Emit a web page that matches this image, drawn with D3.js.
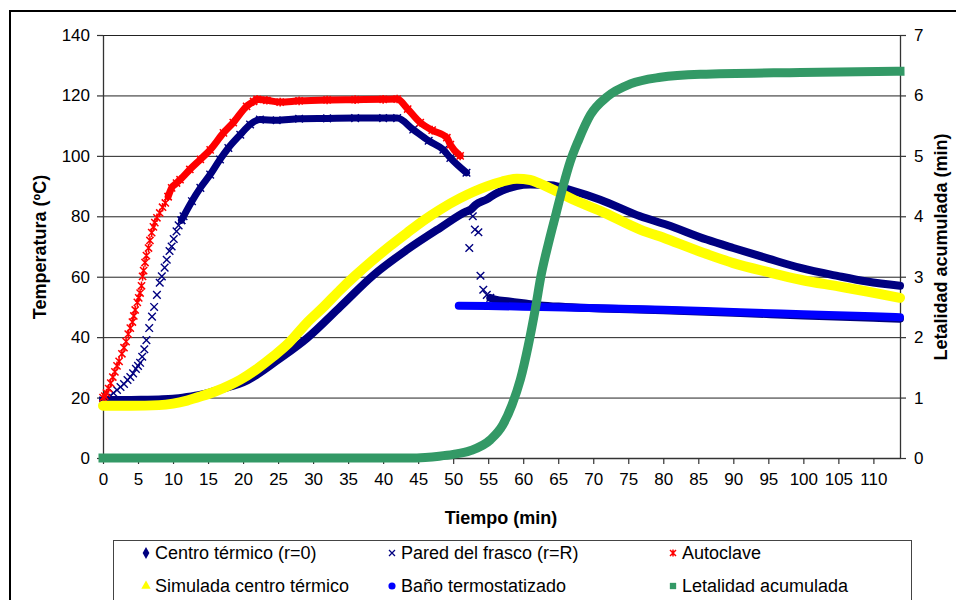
<!DOCTYPE html>
<html>
<head>
<meta charset="utf-8">
<script src="https://cdn.jsdelivr.net/npm/d3@7"></script>
<style>
  body { margin: 0; background: #fff; }
  svg { display: block; font-family: "Liberation Sans", Arial, sans-serif; }
</style>
</head>
<body>
<svg id="chart" width="956" height="600"></svg>
<script>
// Tick values
const tiempoTicks = [0, 5, 10, 15, 20, 25, 30, 35, 40, 45, 50, 55, 60, 65, 70, 75, 80, 85, 90, 95, 100, 105, 110];
const tempTicks = [0, 20, 40, 60, 80, 100, 120, 140];
const letalTicks = [0, 1, 2, 3, 4, 5, 6, 7];

// Centro térmico (r=0), ºC
const centroT = [0, 3, 6, 8, 10, 12, 14, 16, 18, 20, 22, 25, 29.1, 33.9, 38.6, 43.4, 48.1, 51.9, 52.5, 53.2, 54.8, 56, 57, 59, 61, 63.9, 67, 71, 76.7, 80.5, 86.2, 90, 95, 99.6, 105, 109.1, 113.8];
const centroV = [19.2, 19.2, 19.3, 19.4, 19.6, 20.2, 21, 22.2, 23.5, 25, 27.6, 32.5, 39.6, 50.1, 60.5, 68.9, 76.1, 81.6, 82.2, 83.8, 85.6, 87.4, 88.5, 90, 90.5, 90.3, 88.5, 85.5, 80, 77.2, 72.3, 69.5, 66, 62.9, 60.2, 58.4, 57];

// Pared del frasco (r=R), ºC
const paredInicioT = [0, 0.5, 1, 1.5, 2, 2.5, 3, 3.5, 3.9, 4.3, 4.7, 5, 5.3, 5.6, 5.9, 6.2, 6.6, 7, 7.3, 7.7, 8.1, 8.4, 8.8, 9.1, 9.5, 9.8, 10.1, 10.5, 10.8, 11.2];
const paredInicioV = [19, 19.9, 20.5, 21.5, 22.5, 23.5, 24.5, 25.8, 26.8, 28, 29.5, 30.5, 31.5, 33.5, 36, 39, 43, 46.8, 50, 54, 58, 60.1, 63, 65.6, 68.5, 70, 72.5, 75, 77, 78.7];
const paredT = [11.2, 11.5, 12.7, 13.9, 15.3, 16.7, 17.9, 19.6, 21, 22.4, 24.8, 28, 32, 36, 40, 42, 44.3, 46.5, 48.6, 49.6, 51.9];
const paredV = [78.7, 80, 85, 89.4, 93.8, 98.8, 102.6, 107, 110.4, 112, 111.8, 112.3, 112.4, 112.5, 112.5, 112.5, 108.7, 105, 102, 99.3, 94.4];
const paredCaidaT = [52.3, 52.8, 53.1, 53.6, 53.9, 54.3, 54.8, 55.3];
const paredCaidaV = [69.5, 80, 75.6, 74.7, 60.3, 55.7, 54, 53];
const paredFinalT = [55.3, 56, 58, 60, 62.4, 66, 71, 80, 91, 100, 110, 113.8];
const paredFinalV = [53, 52.4, 51.8, 51.2, 50.5, 50, 49.5, 48.9, 48, 47.2, 46.4, 46.1];

// Autoclave, ºC
const autoclaveInicioT = [0, 0.25, 0.5, 0.8, 1.1, 1.4, 1.7, 2.0, 2.3, 2.7, 3.0, 3.3, 3.6, 3.9, 4.2, 4.4, 4.6, 4.9, 5.1, 5.3, 5.5, 5.65, 5.8, 6.0, 6.2, 6.5, 6.7, 6.95, 7.2, 7.4, 7.7, 8.1, 8.5, 8.9, 9.3];
const autoclaveInicioV = [20, 20.5, 21.5, 23, 24.8, 26.8, 28.5, 30.5, 32, 34.5, 36.5, 38.5, 41, 43, 45, 47, 49, 51.5, 53, 54.6, 57, 60.1, 62, 64.7, 67, 69.5, 72, 74.6, 76.5, 77.9, 79.5, 81.1, 83, 84.4, 86.5];
const autoclaveT = [9.3, 9.8, 10.5, 11, 12.4, 13.9, 15.3, 17.2, 18.6, 20.5, 21.5, 22, 23.4, 25.3, 28, 32, 36, 40, 42, 43.5, 45.3, 47, 49.1, 49.6, 51];
const autoclaveV = [86.5, 89.4, 91, 92.1, 95.5, 98.8, 102, 107.6, 111, 116.4, 118, 118.7, 118.4, 117.8, 118.2, 118.5, 118.6, 118.7, 118.8, 115.5, 111, 108.5, 106, 103.7, 100];

// Simulada centro térmico, ºC
const simuladaT = [0, 4, 8, 10, 12, 14, 16, 18, 19.6, 22, 24.3, 26.5, 29.1, 31.5, 33.9, 36, 38.6, 41, 43.4, 45.7, 48.1, 51, 54.8, 57, 59.1, 61, 62.4, 65, 67.2, 71, 76.7, 80.5, 86.2, 90, 95, 99.6, 105, 109.1, 113.8];
const simuladaV = [17.3, 17.3, 17.5, 18, 19, 20.4, 22, 24, 25.9, 29.5, 33.6, 38, 44.7, 50, 55.7, 60.3, 65.6, 70.2, 74.5, 78.5, 82.2, 86, 89.9, 91.5, 92.4, 92, 90.8, 88, 85.5, 81.8, 75.6, 72.5, 67.5, 64.5, 61.5, 59, 56.8, 55.1, 53];

// Baño termostatizado, ºC
const banoT = [50.8, 55, 60, 62.4, 71, 80, 91, 100, 110, 113.8];
const banoV = [50.4, 50.3, 50.1, 50.0, 49.6, 49.1, 48.2, 47.6, 46.9, 46.6];

// Letalidad acumulada, min
const letalidadT = [0, 44, 46, 48, 50, 52.4, 55.3, 57.1, 58.4, 59.6, 60.7, 61.7, 62.6, 63.6, 64.7, 65.7, 66.7, 67.9, 69.6, 72, 75.3, 79.6, 85.3, 99.6, 113.8];
const letalidadV = [0, 0, 0.01, 0.03, 0.06, 0.12, 0.3, 0.55, 0.88, 1.3, 1.85, 2.45, 3.05, 3.55, 4.05, 4.5, 4.9, 5.26, 5.68, 5.98, 6.19, 6.3, 6.35, 6.38, 6.4];

// Legend entries
const legendLabels = ["Centro térmico (r=0)", "Pared del frasco (r=R)", "Autoclave",
                      "Simulada centro térmico", "Baño termostatizado", "Letalidad acumulada"];

const C = {
  navy: "#000080", red: "#ff0000", yellow: "#ffff00", blue: "#0000ff", green: "#339966"
};

const svg = d3.select("#chart");
const plot = { left: 103, right: 900, top: 35, bottom: 458 };

const x = d3.scaleLinear().domain([0, 113.8]).range([plot.left, plot.right]);
const y = d3.scaleLinear().domain([0, 140]).range([plot.bottom, plot.top]);
const yL = d3.scaleLinear().domain([0, 7]).range([plot.bottom, plot.top]);

// Outer chart frame
svg.append("rect").attr("x", 10).attr("y", 11).attr("width", 960).attr("height", 620)
  .attr("fill", "none").attr("stroke", "#000").attr("stroke-width", 2);

// Horizontal gridlines
svg.append("g").attr("transform", `translate(${plot.left},0)`)
  .call(d3.axisLeft(y).tickValues(tempTicks.filter(v => v > 0)).tickSize(-(plot.right - plot.left)).tickFormat(""))
  .call(g => g.select(".domain").remove())
  .call(g => g.selectAll("line").attr("stroke", "#222").attr("stroke-width", 1));

// Axes
function styleAxis(g) {
  g.select(".domain").attr("stroke", "#333").attr("stroke-width", 1.3);
  g.selectAll(".tick line").attr("stroke", "#333").attr("stroke-width", 1.2);
  g.selectAll(".tick text").attr("fill", "#000").attr("font-size", 17)
    .attr("font-family", "Liberation Sans, Arial, sans-serif");
}
svg.append("g").attr("transform", `translate(0,${plot.bottom})`)
  .call(d3.axisBottom(x).tickValues(tiempoTicks).tickFormat(d3.format("d")).tickSize(6).tickSizeOuter(0).tickPadding(9))
  .call(styleAxis);
svg.append("g").attr("transform", `translate(${plot.left},0)`)
  .call(d3.axisLeft(y).tickValues(tempTicks).tickFormat(d3.format("d")).tickSize(6).tickSizeOuter(0).tickPadding(7))
  .call(styleAxis);
svg.append("g").attr("transform", `translate(${plot.right},0)`)
  .call(d3.axisRight(yL).tickValues(letalTicks).tickFormat(d3.format("d")).tickSize(6).tickSizeOuter(0).tickPadding(8))
  .call(styleAxis);

// Axis titles
svg.append("text").attr("x", 501).attr("y", 524).attr("text-anchor", "middle")
  .attr("font-size", 18).attr("font-weight", "bold").text("Tiempo (min)");
svg.append("text").attr("transform", "translate(46,247) rotate(-90)").attr("text-anchor", "middle")
  .attr("font-size", 18).attr("font-weight", "bold").text("Temperatura (ºC)");
svg.append("text").attr("transform", "translate(947,247) rotate(-90)").attr("text-anchor", "middle")
  .attr("font-size", 18).attr("font-weight", "bold").text("Letalidad acumulada (min)");

// Marker shapes
const sym = {
  diamond: s => d3.symbol(d3.symbolDiamond, s)(),
  triangle: s => d3.symbol(d3.symbolTriangle, s)(),
  circle: s => d3.symbol(d3.symbolCircle, s)(),
  square: s => d3.symbol(d3.symbolSquare, s)(),
  times: r => `M${-r},${-r}L${r},${r}M${-r},${r}L${r},${-r}`,
  asterisk: r => `M${-r},${-r}L${r},${r}M${-r},${r}L${r},${-r}M0,${-r * 1.2}L0,${r * 1.2}`
};

const lineTemp = d3.line().x(d => x(d[0])).y(d => y(d[1])).curve(d3.curveMonotoneX);
const lineLet = d3.line().x(d => x(d[0])).y(d => yL(d[1])).curve(d3.curveMonotoneX);

const marks = svg.append("g");

function band(T, V, color, width, gen = lineTemp) {
  marks.append("path").datum(d3.zip(T, V)).attr("d", gen)
    .attr("fill", "none").attr("stroke", color).attr("stroke-width", width)
    .attr("stroke-linejoin", "round").attr("stroke-linecap", "round");
}
function strokeMarkers(T, V, color, pathStr, sw) {
  marks.append("g").selectAll("path").data(d3.zip(T, V)).join("path")
    .attr("transform", d => `translate(${x(d[0])},${y(d[1])})`)
    .attr("d", pathStr).attr("fill", "none").attr("stroke", color).attr("stroke-width", sw);
}

// Centro térmico
band(centroT, centroV, C.navy, 8);
// Pared del frasco
strokeMarkers(paredInicioT, paredInicioV, C.navy, sym.times(3.8), 1.4);
band(paredT, paredV, C.navy, 7);
strokeMarkers(paredT, paredV, C.navy, sym.times(3.8), 1.4);
strokeMarkers(paredCaidaT, paredCaidaV, C.navy, sym.times(3.8), 1.4);
band(paredFinalT, paredFinalV, C.navy, 8);
// Autoclave
strokeMarkers(autoclaveInicioT, autoclaveInicioV, C.red, sym.asterisk(3.6), 1.5);
band(autoclaveT, autoclaveV, C.red, 7);
strokeMarkers(autoclaveT, autoclaveV, C.red, sym.asterisk(3.6), 1.5);
// Simulada centro térmico
band(simuladaT, simuladaV, C.yellow, 10);
// Baño termostatizado
band(banoT, banoV, C.blue, 8);
// Letalidad acumulada (eje secundario)
marks.append("path").datum(d3.zip(letalidadT, letalidadV)).attr("d", lineLet)
  .attr("fill", "none").attr("stroke", C.green).attr("stroke-width", 9)
  .attr("stroke-linejoin", "round").attr("stroke-linecap", "square");

// Legend
const legend = svg.append("g");
legend.append("rect").attr("x", 113.5).attr("y", 540.5).attr("width", 798).attr("height", 80)
  .attr("fill", "#fff").attr("stroke", "#444").attr("stroke-width", 1);

const legendCols = [146, 392, 673];
const legendRows = [553, 586];
const legendMarks = [
  g => g.append("path").attr("d", sym.diamond(40)).attr("fill", C.navy),
  g => g.append("path").attr("d", sym.times(3)).attr("fill", "none").attr("stroke", C.navy).attr("stroke-width", 1.3),
  g => g.append("path").attr("d", sym.asterisk(3)).attr("fill", "none").attr("stroke", C.red).attr("stroke-width", 1.5),
  g => g.append("path").attr("d", sym.triangle(38)).attr("fill", C.yellow),
  g => g.append("path").attr("d", sym.circle(40)).attr("fill", C.blue),
  g => g.append("path").attr("d", sym.square(40)).attr("fill", C.green)
];
legendLabels.forEach((label, i) => {
  const cx = legendCols[i % 3], cy = legendRows[Math.floor(i / 3)];
  const g = legend.append("g").attr("transform", `translate(${cx},${cy})`);
  legendMarks[i](g);
  g.append("text").attr("x", 9).attr("y", 6).attr("font-size", 18).attr("fill", "#000").text(label);
});
</script>
</body>
</html>
